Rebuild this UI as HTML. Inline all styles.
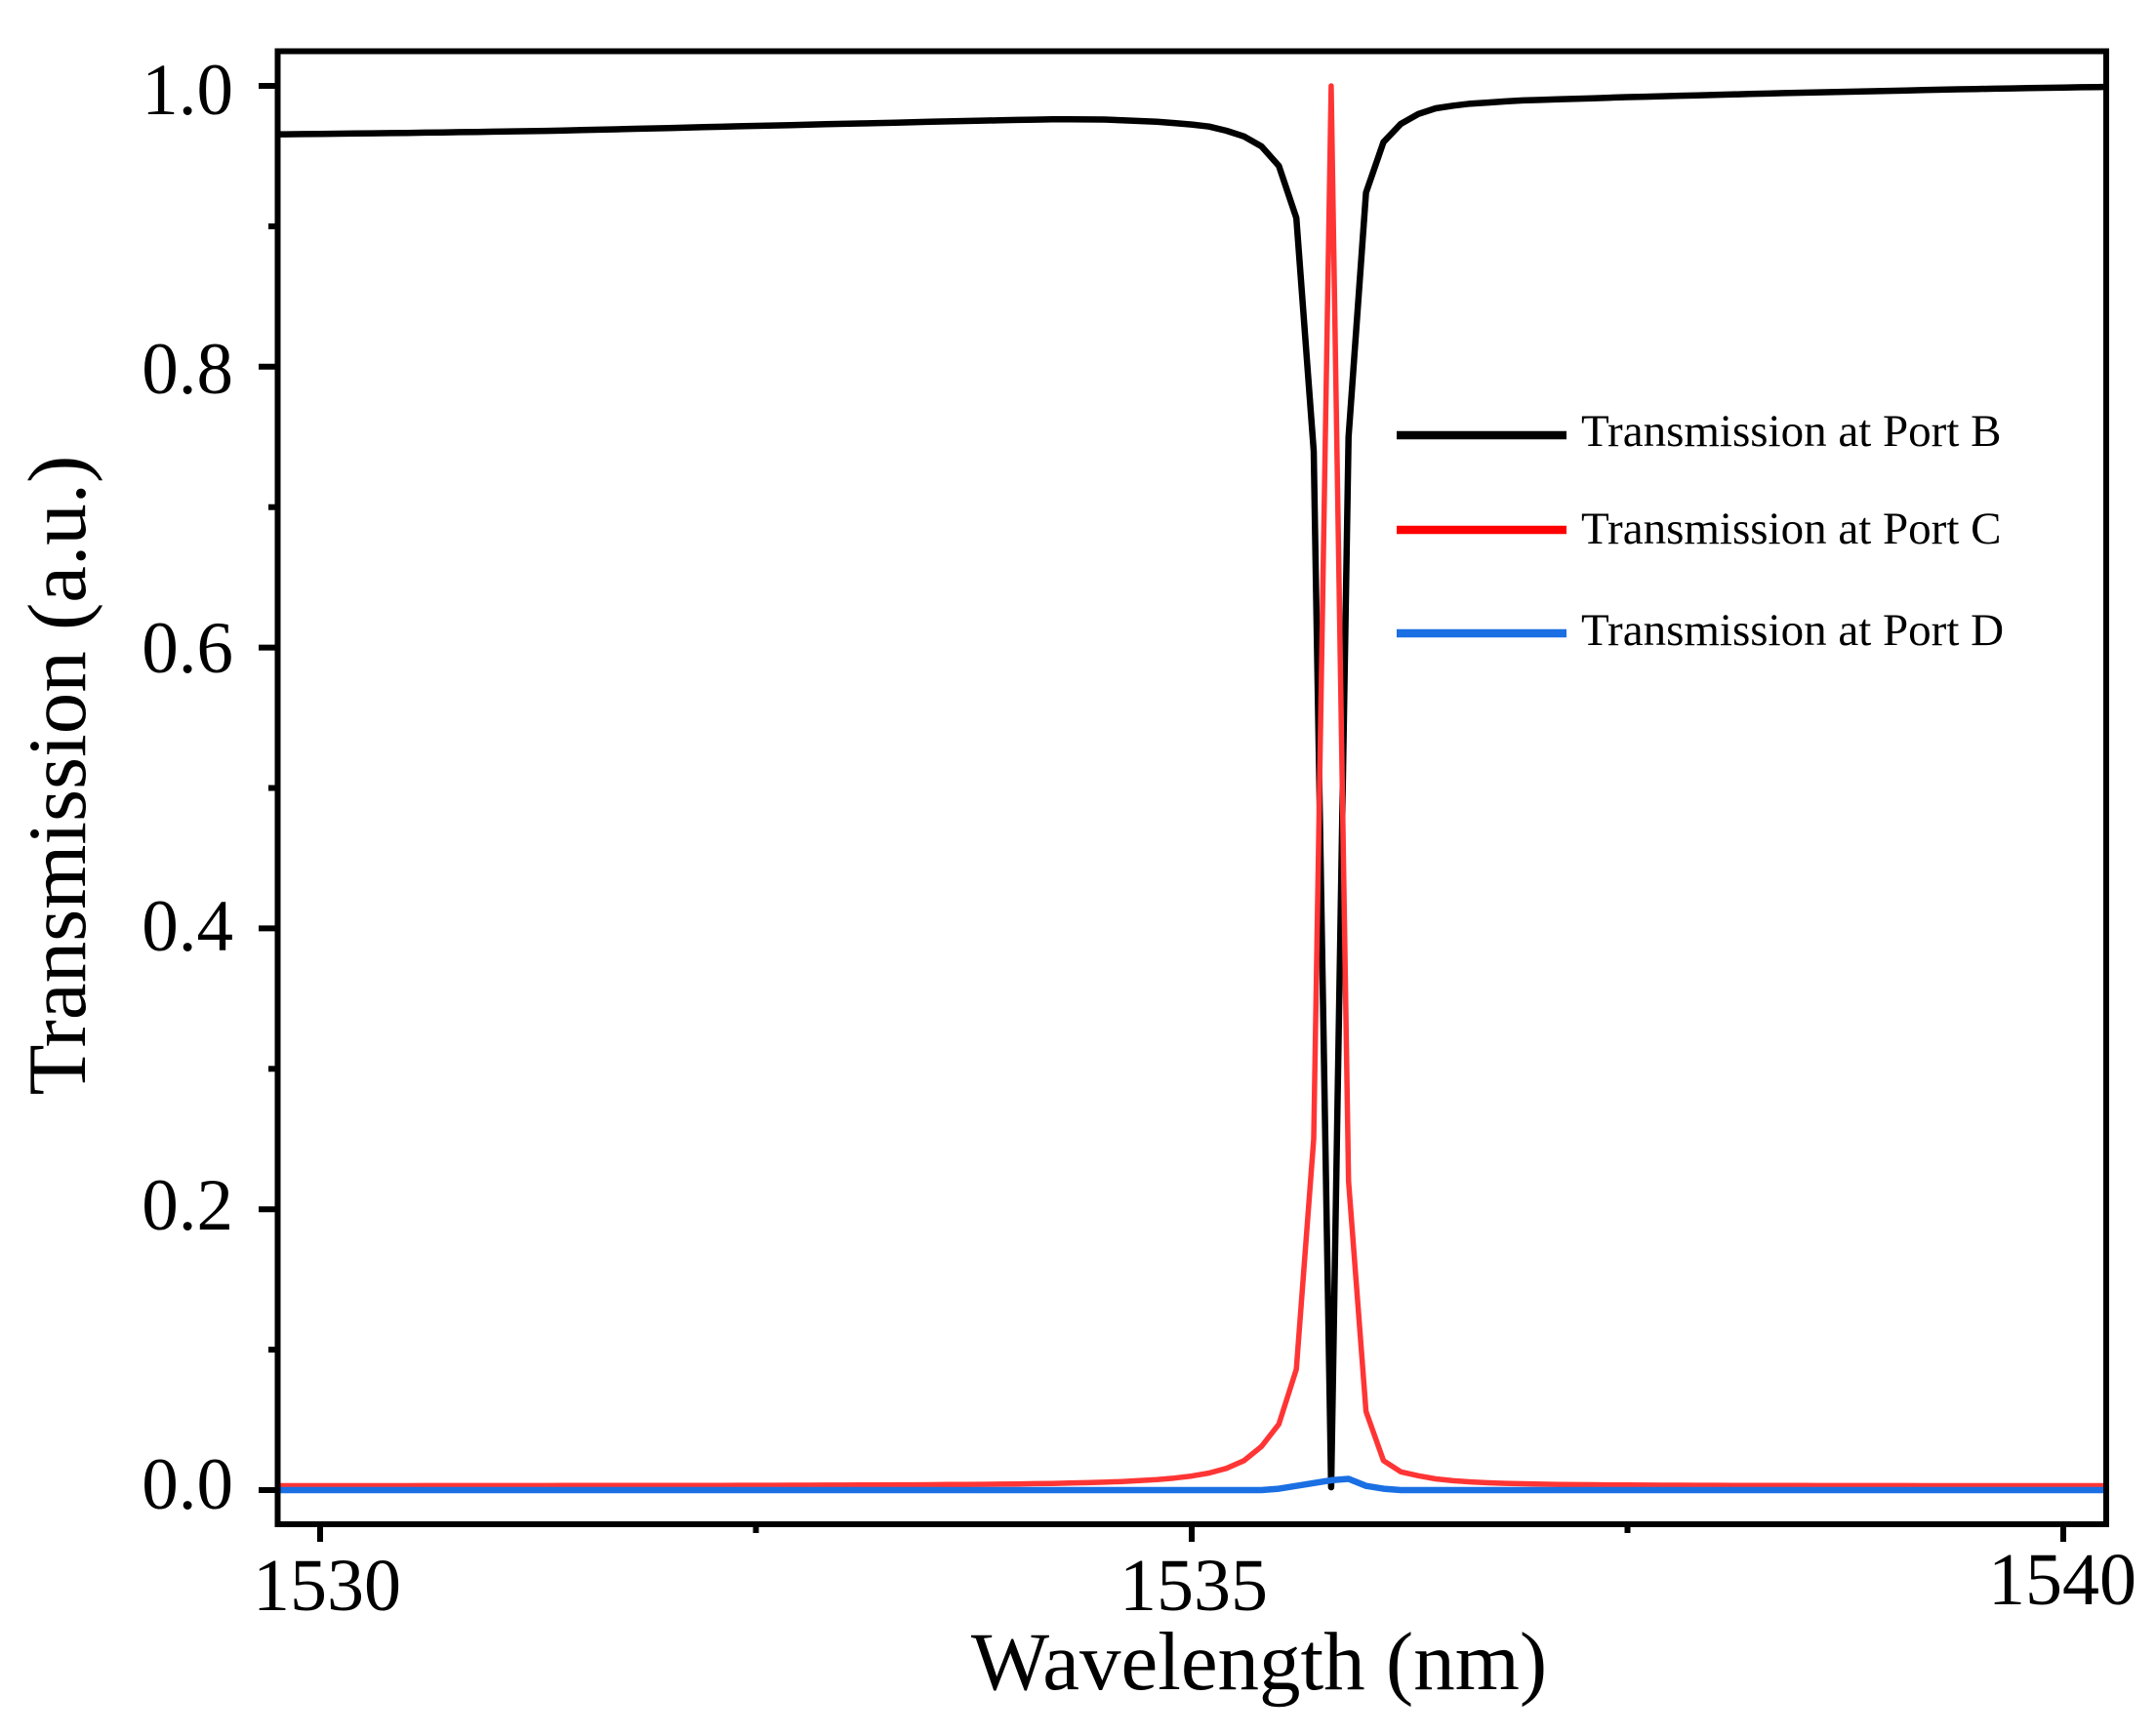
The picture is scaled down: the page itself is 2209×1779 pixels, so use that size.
<!DOCTYPE html>
<html>
<head>
<meta charset="utf-8">
<style>
  html, body { margin: 0; padding: 0; background: #ffffff; }
  svg { display: block; }
  text { font-family: "Liberation Serif", "Times New Roman", serif; fill: #000; }
</style>
</head>
<body>
<svg id="chart" width="2209" height="1779" viewBox="0 0 2209 1779" xmlns="http://www.w3.org/2000/svg">
  <rect x="0" y="0" width="2209" height="1779" fill="#ffffff"/>
  <defs>
    <clipPath id="plotclip">
      <rect x="285" y="53" width="1873" height="1509"/>
    </clipPath>
  </defs>

  <!-- series -->
  <g clip-path="url(#plotclip)" fill="none" stroke-linejoin="round" stroke-linecap="round">
    <polyline id="black" stroke="#000000" stroke-width="6.5" points=""/>
    <polyline id="red" stroke="#ff3535" stroke-width="5.5" points=""/>
    <polyline id="blue" stroke="#1a6fe3" stroke-width="6.5" points=""/>
  </g>

  <!-- frame -->
  <rect x="284.5" y="52.5" width="1873.5" height="1509.5" fill="none" stroke="#000" stroke-width="6"/>

  <!-- y ticks -->
  <g stroke="#000" stroke-width="6">
    <line x1="265" y1="1527" x2="285" y2="1527"/>
    <line x1="265" y1="1239.2" x2="285" y2="1239.2"/>
    <line x1="265" y1="951.4" x2="285" y2="951.4"/>
    <line x1="265" y1="663.6" x2="285" y2="663.6"/>
    <line x1="265" y1="375.8" x2="285" y2="375.8"/>
    <line x1="265" y1="88" x2="285" y2="88"/>
    <!-- minor -->
    <line x1="275" y1="1383.1" x2="285" y2="1383.1"/>
    <line x1="275" y1="1095.3" x2="285" y2="1095.3"/>
    <line x1="275" y1="807.5" x2="285" y2="807.5"/>
    <line x1="275" y1="519.7" x2="285" y2="519.7"/>
    <line x1="275" y1="231.9" x2="285" y2="231.9"/>
  </g>

  <!-- x ticks -->
  <g stroke="#000" stroke-width="6">
    <line x1="328" y1="1562" x2="328" y2="1580"/>
    <line x1="1221" y1="1562" x2="1221" y2="1580"/>
    <line x1="2114" y1="1562" x2="2114" y2="1580"/>
    <line x1="774.5" y1="1562" x2="774.5" y2="1571"/>
    <line x1="1667.5" y1="1562" x2="1667.5" y2="1571"/>
  </g>

  <!-- y tick labels -->
  <g font-size="75" text-anchor="end">
    <text x="239" y="1546">0.0</text>
    <text x="239" y="1260">0.2</text>
    <text x="239" y="974">0.4</text>
    <text x="239" y="689">0.6</text>
    <text x="239" y="403">0.8</text>
    <text x="239" y="117">1.0</text>
  </g>

  <!-- x tick labels -->
  <g font-size="76" text-anchor="middle">
    <text x="335" y="1650">1530</text>
    <text x="1223" y="1650">1535</text>
    <text x="2113" y="1644">1540</text>
  </g>

  <!-- axis titles -->
  <text x="1290" y="1731" font-size="85" text-anchor="middle">Wavelength (nm)</text>
  <text transform="translate(87,794.5) rotate(-90)" x="0" y="0" font-size="85" text-anchor="middle">Transmission (a.u.)</text>

  <!-- legend -->
  <g stroke-width="8.5">
    <line x1="1431" y1="446" x2="1605" y2="446" stroke="#000000"/>
    <line x1="1431" y1="543" x2="1605" y2="543" stroke="#ff0000"/>
    <line x1="1431" y1="649" x2="1605" y2="649" stroke="#1a6fe3"/>
  </g>
  <g font-size="47">
    <text x="1620" y="457">Transmission at Port B</text>
    <text x="1620" y="557">Transmission at Port C</text>
    <text x="1620" y="661">Transmission at Port D</text>
  </g>
</svg>

<script>
(function(){
  var X = function(l){ return 328 + (l - 1530) * 178.6; };
  var Y = function(t){ return 1527 - t * 1439; };

  function red(l){
    var k = Math.round((l - 1535.8) * 10);
    var tbl = {"-4":0.031,"-3":0.047,"-2":0.086,"-1":0.25,"0":1,"1":0.22,"2":0.056,"3":0.021,"4":0.013};
    if (tbl.hasOwnProperty(String(k))) return tbl[String(k)];
    var d = k / 10;
    if (k < 0) return 0.003 + 0.0045 / (d * d);
    return 0.003 + 0.0018 / (d * d);
  }
  function blue(l){
    var k = Math.round((l - 1535.8) * 10);
    var tbl = {"-3":0.001,"-2":0.003,"-1":0.005,"0":0.007,"1":0.008,"2":0.003,"3":0.001};
    if (tbl.hasOwnProperty(String(k))) return tbl[String(k)];
    return 0.0;
  }
  var anchors = [
    [1529.6,0.9652],[1529.76,0.9655],[1530.5,0.9665],[1531.33,0.968],[1532.5,0.9715],
    [1533.7,0.975],[1534.2,0.9762],[1534.5,0.976],[1534.8,0.9745],[1535.0,0.9725],
    [1535.1,0.971],[1535.2,0.968],[1535.3,0.964],[1535.4,0.957],[1535.5,0.943],
    [1535.6,0.906],[1535.7,0.74],[1535.8,0.002],[1535.9,0.75],[1536.0,0.924],
    [1536.1,0.960],[1536.2,0.973],[1536.3,0.980],[1536.4,0.984],[1536.56,0.987],
    [1536.87,0.9895],[1537.5,0.992],[1538.45,0.995],[1539.5,0.9978],[1540.25,0.9993],[1540.5,0.9998]
  ];
  function black(l){
    for (var i = 0; i < anchors.length - 1; i++){
      var a = anchors[i], b = anchors[i+1];
      if (l >= a[0] - 1e-9 && l <= b[0] + 1e-9){
        var f = (l - a[0]) / (b[0] - a[0]);
        return a[1] + f * (b[1] - a[1]);
      }
    }
    return anchors[anchors.length-1][1];
  }

  var pb = [], pr = [], pu = [];
  for (var i = 0; i <= 108; i++){
    var l = (15296 + i) / 10;
    pr.push(X(l).toFixed(1) + "," + Y(red(l)).toFixed(1));
    pu.push(X(l).toFixed(1) + "," + Y(blue(l)).toFixed(1));
    pb.push(X(l).toFixed(1) + "," + Y(black(l)).toFixed(1));
  }
  document.getElementById("black").setAttribute("points", pb.join(" "));
  document.getElementById("red").setAttribute("points", pr.join(" "));
  document.getElementById("blue").setAttribute("points", pu.join(" "));
})();
</script>
</body>
</html>
